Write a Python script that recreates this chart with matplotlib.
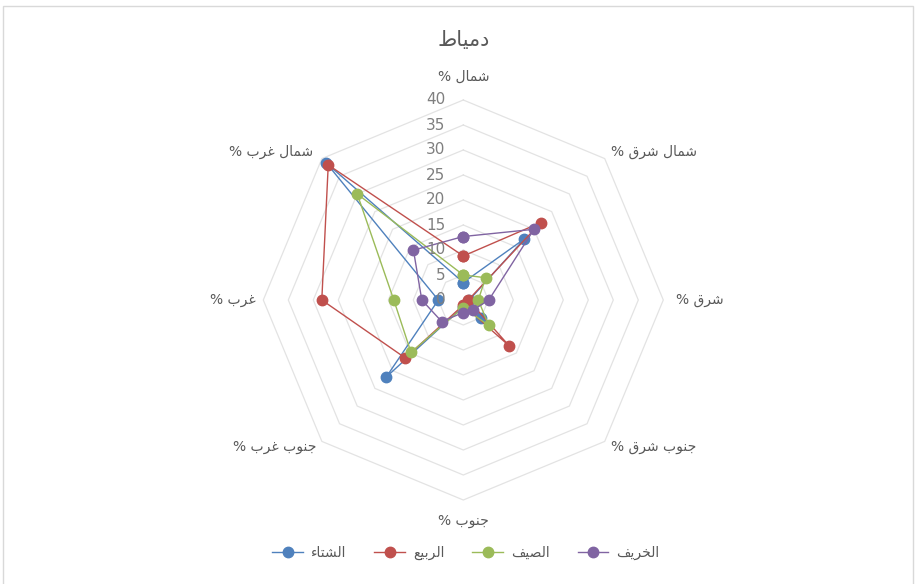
import numpy as np
import matplotlib
matplotlib.use("Agg")
import matplotlib.pyplot as plt
from matplotlib.patches import Rectangle

# wind direction share per season (%), order: N, NE, E, SE, S, SW, W, NW
directions = ["شمال %", "شمال شرق %", "شرق %", "جنوب شرق %",
              "جنوب %", "جنوب غرب %", "غرب %", "شمال غرب %"]
seasons = ["الشتاء", "الربيع", "الصيف", "الخريف"]
winter = [3.5, 17.3, 1.2, 5.0, 1.3, 21.8, 5.0, 38.7]
spring = [8.8, 21.9, 1.0, 13.0, 1.0, 16.4, 28.3, 38.2]
summer = [5.0, 6.3, 3.0, 7.2, 1.5, 14.8, 13.9, 30.0]
autumn = [12.7, 20.0, 5.1, 2.8, 2.5, 6.1, 8.3, 14.1]
r_ticks = [0, 5, 10, 15, 20, 25, 30, 35, 40]
title = "دمياط"

colors = ["#4F81BD", "#C0504D", "#9BBB59", "#8064A2"]
grey = "#595959"

# matplotlib has no arabic shaping, so pick contextual forms by hand
# (isolated, final, initial, medial)
FORMS = {
    "ء": ("\uFE80", None, None, None),
    "ا": ("\uFE8D", "\uFE8E", None, None),
    "ب": ("\uFE8F", "\uFE90", "\uFE91", "\uFE92"),
    "ت": ("\uFE95", "\uFE96", "\uFE97", "\uFE98"),
    "ج": ("\uFE9D", "\uFE9E", "\uFE9F", "\uFEA0"),
    "خ": ("\uFEA5", "\uFEA6", "\uFEA7", "\uFEA8"),
    "د": ("\uFEA9", "\uFEAA", None, None),
    "ر": ("\uFEAD", "\uFEAE", None, None),
    "ش": ("\uFEB5", "\uFEB6", "\uFEB7", "\uFEB8"),
    "ص": ("\uFEB9", "\uFEBA", "\uFEBB", "\uFEBC"),
    "ط": ("\uFEC1", "\uFEC2", "\uFEC3", "\uFEC4"),
    "ع": ("\uFEC9", "\uFECA", "\uFECB", "\uFECC"),
    "غ": ("\uFECD", "\uFECE", "\uFECF", "\uFED0"),
    "ف": ("\uFED1", "\uFED2", "\uFED3", "\uFED4"),
    "ق": ("\uFED5", "\uFED6", "\uFED7", "\uFED8"),
    "ل": ("\uFEDD", "\uFEDE", "\uFEDF", "\uFEE0"),
    "م": ("\uFEE1", "\uFEE2", "\uFEE3", "\uFEE4"),
    "ن": ("\uFEE5", "\uFEE6", "\uFEE7", "\uFEE8"),
    "و": ("\uFEED", "\uFEEE", None, None),
    "ي": ("\uFEF1", "\uFEF2", "\uFEF3", "\uFEF4"),
}


def shape(text):
    out = []
    for i, ch in enumerate(text):
        if ch not in FORMS:
            out.append(ch)
            continue
        prev = text[i - 1] if i > 0 else ""
        nxt = text[i + 1] if i + 1 < len(text) else ""
        iso, fin, ini, med = FORMS[ch]
        join_prev = prev in FORMS and FORMS[prev][2] is not None and fin is not None
        join_next = nxt in FORMS and ini is not None and FORMS[nxt][1] is not None
        if join_prev and join_next:
            out.append(med)
        elif join_prev:
            out.append(fin)
        elif join_next:
            out.append(ini)
        else:
            out.append(iso)
    return "".join(reversed(out))


plt.rcParams["font.family"] = ["DejaVu Sans"]

W, H = 917, 584
fig = plt.figure(figsize=(W / 100, H / 100), dpi=100)
fig.patch.set_facecolor("white")

# chart frame
fig.patches.append(Rectangle((3 / W, -0.05), 910 / W, 1.05 - 6 / H,
                             transform=fig.transFigure, fill=False,
                             edgecolor="#D9D9D9", lw=1.0))

cx, cy, rad = 463.3, 284, 200
ax = fig.add_axes([(cx - rad) / W, (cy - rad) / H, 2 * rad / W, 2 * rad / H],
                  projection="polar")
ax.set_theta_zero_location("N")
ax.set_theta_direction(-1)
ax.set_ylim(0, 40)
ax.grid(False)
ax.spines["polar"].set_visible(False)
ax.set_xticks([])
ax.set_yticks([])

angles = np.arange(len(directions)) * 2 * np.pi / len(directions)
closed = np.append(angles, angles[0])

# octagon gridlines
for r in r_ticks[1:]:
    ax.plot(closed, [r] * len(closed), color="#E3E3E3", lw=0.9, zorder=0,
            clip_on=False)

# value labels along the north axis
for r in r_ticks:
    ax.annotate(str(r), (0, r), xytext=(-18, 0), textcoords="offset pixels",
                ha="right", va="center", fontsize=11, color="#7F7F7F",
                annotation_clip=False)

# direction labels around the outer ring
label_pos = [((0, 23), "center"), ((6, 7), "left"), ((13, 0), "left"),
             ((6, -6), "left"), ((0, -21), "center"), ((-6, -6), "right"),
             ((-8, 0), "right"), ((-9, 7), "right")]
for ang, name, (off, ha) in zip(angles, directions, label_pos):
    ax.annotate(shape(name), (ang, 40), xytext=off, textcoords="offset pixels",
                ha=ha, va="center", fontsize=10, color=grey,
                annotation_clip=False)

handles = []
for vals, name, c in zip([winter, spring, summer, autumn], seasons, colors):
    v = np.append(vals, vals[0])
    ln, = ax.plot(closed, v, color=c, lw=1.0, marker="o", markersize=7.5,
                  label=shape(name), clip_on=False)
    handles.append(ln)

fig.text(464 / W, 1 - 40 / H, shape(title), ha="center", va="center",
         fontsize=15, color=grey)

fig.legend(handles=handles, loc="center", bbox_to_anchor=(466 / W, 31 / H),
           ncol=4, frameon=False, fontsize=10, handlelength=2.2,
           columnspacing=2.0, handletextpad=0.6, labelcolor=grey)

fig.savefig("out.png", dpi=100, facecolor="white")
